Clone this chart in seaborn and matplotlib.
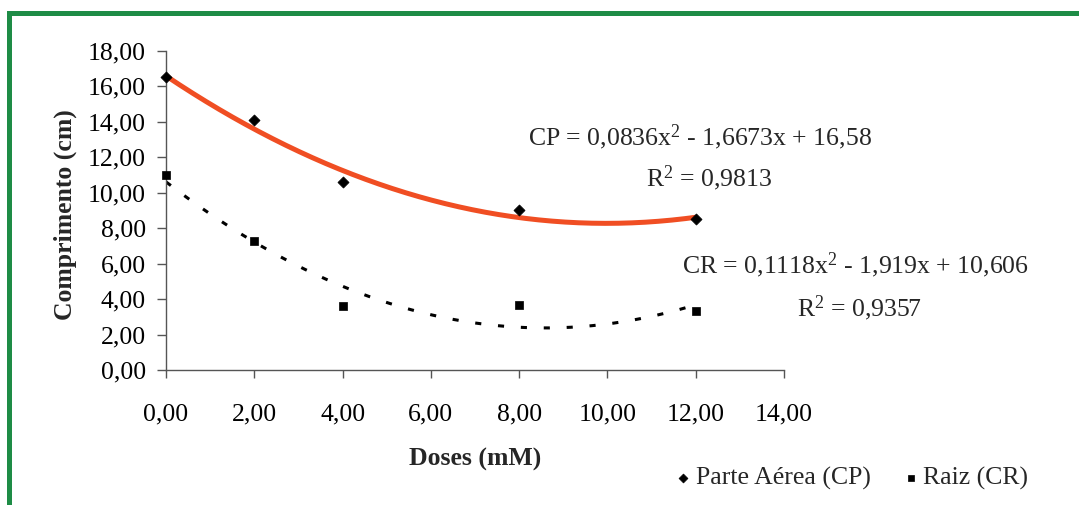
import numpy as np
import pandas as pd
import matplotlib
matplotlib.use("Agg")
import matplotlib.pyplot as plt
import seaborn as sns
from matplotlib.lines import Line2D

# ---- data ----
doses = [0, 2, 4, 8, 12]
cp_values = [16.5, 14.1, 10.6, 9.0, 8.5]
cr_values = [11.0, 7.25, 3.6, 3.65, 3.35]
cp_coef = [0.0836, -1.6673, 16.58]
cr_coef = [0.1118, -1.919, 10.606]
cp_equation = r"CP = 0,0836x$^{2}$ - 1,6673x + 16,58"
cr_equation = r"CR = 0,1118x$^{2}$ - 1,919x + 10,606"
cp_r2 = r"R$^{2}$ = 0,9813"
cr_r2 = r"R$^{2}$ = 0,9357"
x_ticks = [0, 2, 4, 6, 8, 10, 12, 14]
x_tick_labels = ["0,00", "2,00", "4,00", "6,00", "8,00", "10,00", "12,00", "14,00"]
y_ticks = [0, 2, 4, 6, 8, 10, 12, 14, 16, 18]
y_tick_labels = ["0,00", "2,00", "4,00", "6,00", "8,00", "10,00", "12,00", "14,00", "16,00", "18,00"]
series_labels = ["Parte Aérea (CP)", "Raiz (CR)"]
x_label = "Doses (mM)"
y_label = "Comprimento (cm)"

# ---- style ----
sns.set_style("ticks")
SERIF = ['Liberation Serif', 'DejaVu Serif']
plt.rcParams['font.family'] = SERIF
plt.rcParams['mathtext.fontset'] = 'custom'
plt.rcParams['mathtext.rm'] = 'Liberation Serif'
plt.rcParams['mathtext.it'] = 'Liberation Serif:italic'
plt.rcParams['mathtext.bf'] = 'Liberation Serif:bold'
FS = 18.5
AX_COLOR = '#555555'

fig = plt.figure(figsize=(10.79, 5.05), dpi=100)
fig.patch.set_facecolor('white')
W, H = 1079, 505
ax = fig.add_axes([166 / W, 1 - 370 / H, 618 / W, (370 - 50.7) / H])

# trend lines (from the displayed regression equations)
xs = np.linspace(0, 12, 200)
fit_df = pd.DataFrame({
    'x': xs,
    'cp': np.polyval(cp_coef, xs),
    'cr': np.polyval(cr_coef, xs),
})
sns.lineplot(data=fit_df, x='x', y='cp', ax=ax, color='#F04E23', lw=3.6,
             legend=False)
sns.lineplot(data=fit_df, x='x', y='cr', ax=ax, color='black', lw=2.2,
             legend=False)
ax.lines[-1].set_linestyle((0, (2, 5.5)))

pts = pd.DataFrame({'dose': doses, 'cp': cp_values, 'cr': cr_values})
sns.scatterplot(data=pts, x='dose', y='cp', ax=ax, marker='D', s=32,
                color='black', edgecolor='black', linewidth=0.5,
                label=series_labels[0], clip_on=False, zorder=5)
sns.scatterplot(data=pts, x='dose', y='cr', ax=ax, marker='s', s=38,
                color='black', edgecolor='black', linewidth=0.5,
                label=series_labels[1], clip_on=False, zorder=5)

ax.set_xlim(0, 14)
ax.set_ylim(0, 18)
ax.set_xticks(x_ticks)
ax.set_xticklabels(x_tick_labels, family=SERIF)
ax.set_yticks(y_ticks)
ax.set_yticklabels(y_tick_labels, family=SERIF)
ax.tick_params(axis='y', direction='out', length=6.5, width=1, pad=8,
               color=AX_COLOR, labelsize=FS, labelcolor='black')
ax.tick_params(axis='x', direction='out', length=6, width=1, pad=18,
               color=AX_COLOR, labelsize=FS, labelcolor='black')
for s in ['top', 'right']:
    ax.spines[s].set_visible(False)
for s in ['left', 'bottom']:
    ax.spines[s].set_color(AX_COLOR)
    ax.spines[s].set_linewidth(1)

ax.set_xlabel(x_label, fontweight='bold', fontsize=FS, family=SERIF)
ax.xaxis.set_label_coords(0.5, -0.244)
ax.set_ylabel(y_label, fontweight='bold', fontsize=FS, family=SERIF)
ax.yaxis.set_label_coords(-0.144, 0.486)

# equations
ax.text(8.20, 12.64, cp_equation, ha='left', va='baseline', fontsize=FS, family=SERIF)
ax.text(12.30, 10.37, cp_r2, ha='center', va='baseline', fontsize=FS, family=SERIF)
ax.text(11.69, 5.47, cr_equation, ha='left', va='baseline', fontsize=FS, family=SERIF)
ax.text(15.72, 3.02, cr_r2, ha='center', va='baseline', fontsize=FS, family=SERIF)

# legend
handles, labels = ax.get_legend_handles_labels()
ax.legend_.remove()
fig.legend(handles, labels, ncol=2, loc='center left',
           bbox_to_anchor=(674 / W, 1 - 478 / H), frameon=False,
           handletextpad=0.15, columnspacing=1.2, handlelength=0.7,
           borderpad=0, borderaxespad=0, markerscale=0.8,
           prop={'family': SERIF, 'size': FS})

# green frame
fig.add_artist(Line2D([9 / W, 9 / W, 1.0], [0, 1 - 12.5 / H, 1 - 12.5 / H],
                      transform=fig.transFigure, color='#1E8C46', lw=3.6,
                      solid_joinstyle='miter'))

fig.savefig('out.png', dpi=100)
